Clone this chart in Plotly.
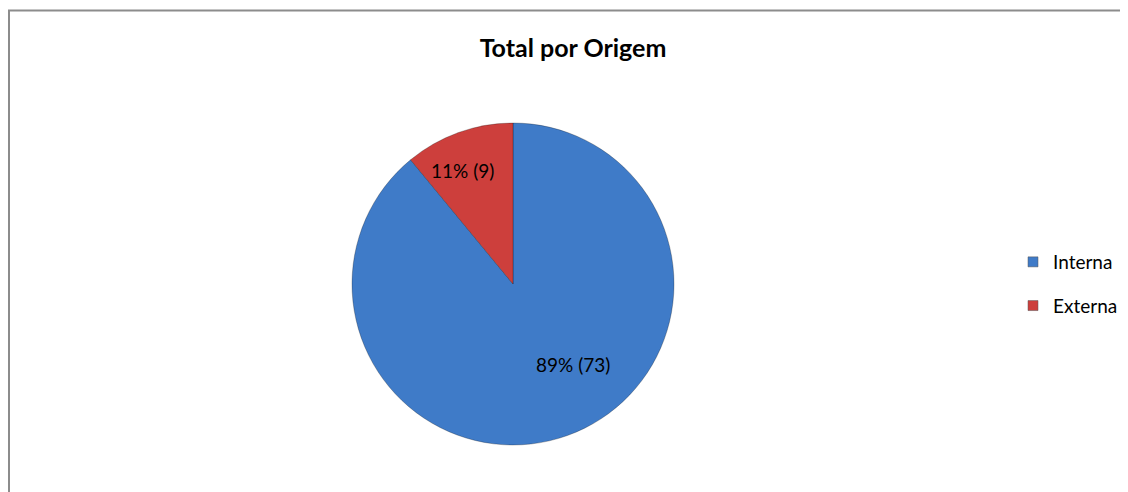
import plotly.graph_objects as go

categories = ["Interna", "Externa"]
values = [73, 9]
colors = ["#3f7bc8", "#cd3f3c"]
title_text = "Total por Origem"

# page has 8px body margin; figure sized to fit the visible window
OFF = 8
W, H = 1128 - OFF, 492 - OFF


def fx(px):
    return (px - OFF) / W


def fy(py):
    return 1 - (py - OFF) / H


total = sum(values)
label_texts = [f"{round(v / total * 100)}% ({v})" for v in values]

fig = go.Figure()
fig.add_trace(go.Pie(
    labels=categories, values=values, sort=False, direction="clockwise", rotation=0,
    marker=dict(colors=colors, line=dict(color="rgba(0,0,0,0.25)", width=1)),
    textinfo="none", hoverinfo="label+value+percent", showlegend=False,
    domain=dict(x=[fx(352), fx(674)], y=[fy(445), fy(123)]),
))

# legend entries
for c, col in zip(categories, colors):
    fig.add_trace(go.Scatter(
        x=[None], y=[None], mode="markers", name=c, legendgroup=c,
        marker=dict(symbol="square", size=10, color=col, line=dict(color="#555", width=0.5)),
    ))

# slice labels
label_pos = [(573, 364), (462, 170)]
for t, (px, py) in zip(label_texts, label_pos):
    fig.add_annotation(text=t, x=fx(px), y=fy(py), xref="paper", yref="paper",
                       xanchor="center", yanchor="middle",
                       showarrow=False, font=dict(family="Lato", size=19, color="#000"))

fig.add_shape(type="rect", xref="paper", yref="paper",
              x0=1 / W, y0=-0.05, x1=1.05, y1=fy(10.5),
              line=dict(color="#8c8c8c", width=2), fillcolor="rgba(0,0,0,0)")

fig.update_layout(
    width=W, height=H, autosize=False,
    margin=dict(l=0, r=0, t=0, b=0),
    paper_bgcolor="white", plot_bgcolor="white",
    title=dict(text=f"<b>{title_text}</b>", x=fx(573), xanchor="center", y=fy(48), yanchor="middle",
               font=dict(family="Lato", size=25, color="#000")),
    xaxis=dict(visible=False), yaxis=dict(visible=False),
    legend=dict(x=fx(1013), xanchor="left", y=fy(284), yanchor="middle",
                font=dict(family="Lato", size=19, color="#000"), tracegroupgap=16,
                bgcolor="rgba(0,0,0,0)", itemclick=False),
)

fig.write_html("out.html")
